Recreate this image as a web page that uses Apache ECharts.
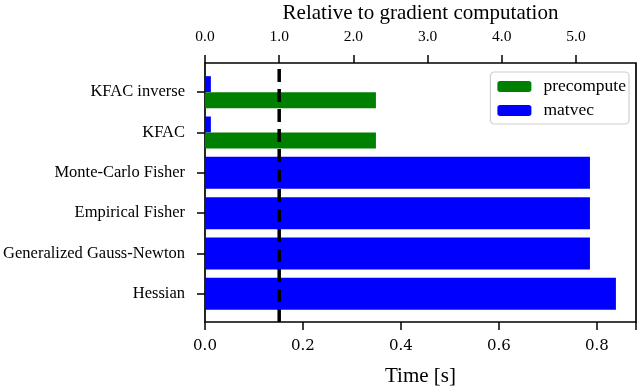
<!DOCTYPE html>
<html lang="en">
  <head>
    <meta charset="UTF-8" />
    <title>Curvature matvec timings</title>
    <style>
      * {
        margin: 0;
        padding: 0;
      }
      #main {
        width: 640px;
        height: 390px;
      }
    </style>
  </head>
  <body>
    <div id="main"></div>
    <script src="https://cdn.jsdelivr.net/npm/echarts@6/dist/echarts.min.js"></script>
    <script>
      // categories, bottom to top
      var methods = [
        "Hessian",
        "Generalized Gauss-Newton",
        "Empirical Fisher",
        "Monte-Carlo Fisher",
        "KFAC",
        "KFAC inverse",
      ];
      // seconds
      var matvecTime = [0.839, 0.786, 0.786, 0.786, 0.012, 0.012];
      var precomputeTime = [0, 0, 0, 0, 0.349, 0.349];
      // time of one gradient computation, in seconds
      var gradTime = 0.1515;
      var xMax = 0.88;

      var serif = "Liberation Serif";
      var green = "#008000";
      var blue = "#0000ff";

      // rows with a precompute step get two half-height bars
      var soloMatvec = matvecTime.map(function (v, i) {
        return precomputeTime[i] > 0 ? null : v;
      });
      var pairMatvec = matvecTime.map(function (v, i) {
        return precomputeTime[i] > 0 ? v : null;
      });
      var pairPrecompute = precomputeTime.map(function (v) {
        return v > 0 ? v : null;
      });

      var myChart = echarts.init(document.getElementById("main"));
      var option = {
        animation: false,
        textStyle: { fontFamily: serif, color: "#000" },
        grid: [
          // frame with the two x axes
          {
            left: 205, right: 4, top: 63, bottom: 68,
            outerBoundsMode: "none",
            show: true, borderColor: "#000", borderWidth: 1.7,
          },
          // bar area, categories spaced like matplotlib
          { left: 205, right: 4, top: 72, bottom: 76, outerBoundsMode: "none" },
        ],
        legend: {
          right: 11,
          top: 72,
          orient: "vertical",
          data: ["precompute", "matvec"],
          itemWidth: 34,
          itemHeight: 11,
          itemGap: 5,
          padding: [5, 3, 4, 7],
          borderColor: "#d0d0d0",
          borderWidth: 1.2,
          borderRadius: 4,
          backgroundColor: "#fff",
          textStyle: { fontFamily: serif, fontSize: 17.5, lineHeight: 19, color: "#000", padding: [0, 0, 0, 7] },
        },
        xAxis: [
          {
            gridIndex: 0,
            type: "value",
            position: "bottom",
            min: 0,
            max: xMax,
            interval: 0.2,
            name: "Time [s]",
            nameLocation: "middle",
            nameGap: 44,
            nameTextStyle: { fontFamily: serif, fontSize: 21, color: "#000" },
            axisLine: { show: false },
            axisTick: { show: true, length: 8, inside: false, lineStyle: { color: "#000", width: 1.5 } },
            axisLabel: {
              margin: 17,
              fontFamily: "DejaVu Serif",
              fontSize: 15,
              color: "#000",
              formatter: function (v) {
                return v > 0.85 ? "" : v.toFixed(1);
              },
            },
            splitLine: { show: false },
          },
          {
            gridIndex: 0,
            type: "value",
            position: "top",
            min: 0,
            max: xMax / gradTime,
            interval: 1,
            name: "Relative to gradient computation",
            nameLocation: "middle",
            nameGap: 36,
            nameTextStyle: { fontFamily: serif, fontSize: 21, color: "#000" },
            axisLine: { show: false },
            axisTick: { show: true, length: 8, lineStyle: { color: "#000", width: 1.5 } },
            axisLabel: {
              margin: 18,
              fontFamily: serif,
              fontSize: 15.5,
              color: "#000",
              showMaxLabel: false,
              formatter: function (v) {
                return v.toFixed(1);
              },
            },
            splitLine: { show: false },
          },
          {
            gridIndex: 1,
            type: "value",
            min: 0,
            max: xMax,
            show: false,
          },
        ],
        yAxis: [
          { gridIndex: 0, type: "value", min: 0, max: 1, show: false },
          {
            gridIndex: 1,
            type: "category",
            data: methods,
            axisLine: { show: false },
            axisTick: { show: true, alignWithLabel: true, length: 8, lineStyle: { color: "#000", width: 1.5 } },
            axisLabel: { margin: 20, fontFamily: serif, fontSize: 16.5, color: "#000" },
          },
          {
            gridIndex: 1,
            type: "category",
            data: methods,
            position: "right",
            show: false,
          },
        ],
        series: [
          {
            name: "matvec",
            type: "bar",
            xAxisIndex: 2,
            yAxisIndex: 2,
            data: pairMatvec,
            barWidth: 16,
            barGap: "0%",
            itemStyle: { color: blue },
          },
          {
            name: "precompute",
            type: "bar",
            xAxisIndex: 2,
            yAxisIndex: 2,
            data: pairPrecompute,
            barWidth: 16,
            barGap: "0%",
            itemStyle: { color: green },
          },
          {
            name: "matvec",
            type: "bar",
            xAxisIndex: 2,
            yAxisIndex: 1,
            data: soloMatvec,
            barWidth: 32,
            itemStyle: { color: blue },
          },
          {
            // gradient computation time marker
            type: "line",
            xAxisIndex: 0,
            yAxisIndex: 0,
            data: [
              [gradTime, 0],
              [gradTime, 1],
            ],
            symbol: "none",
            lineStyle: { color: "#000", width: 3.5, type: [13, 7] },
            z: 5,
            silent: true,
          },
        ],
      };
      myChart.setOption(option);
    </script>
  </body>
</html>
